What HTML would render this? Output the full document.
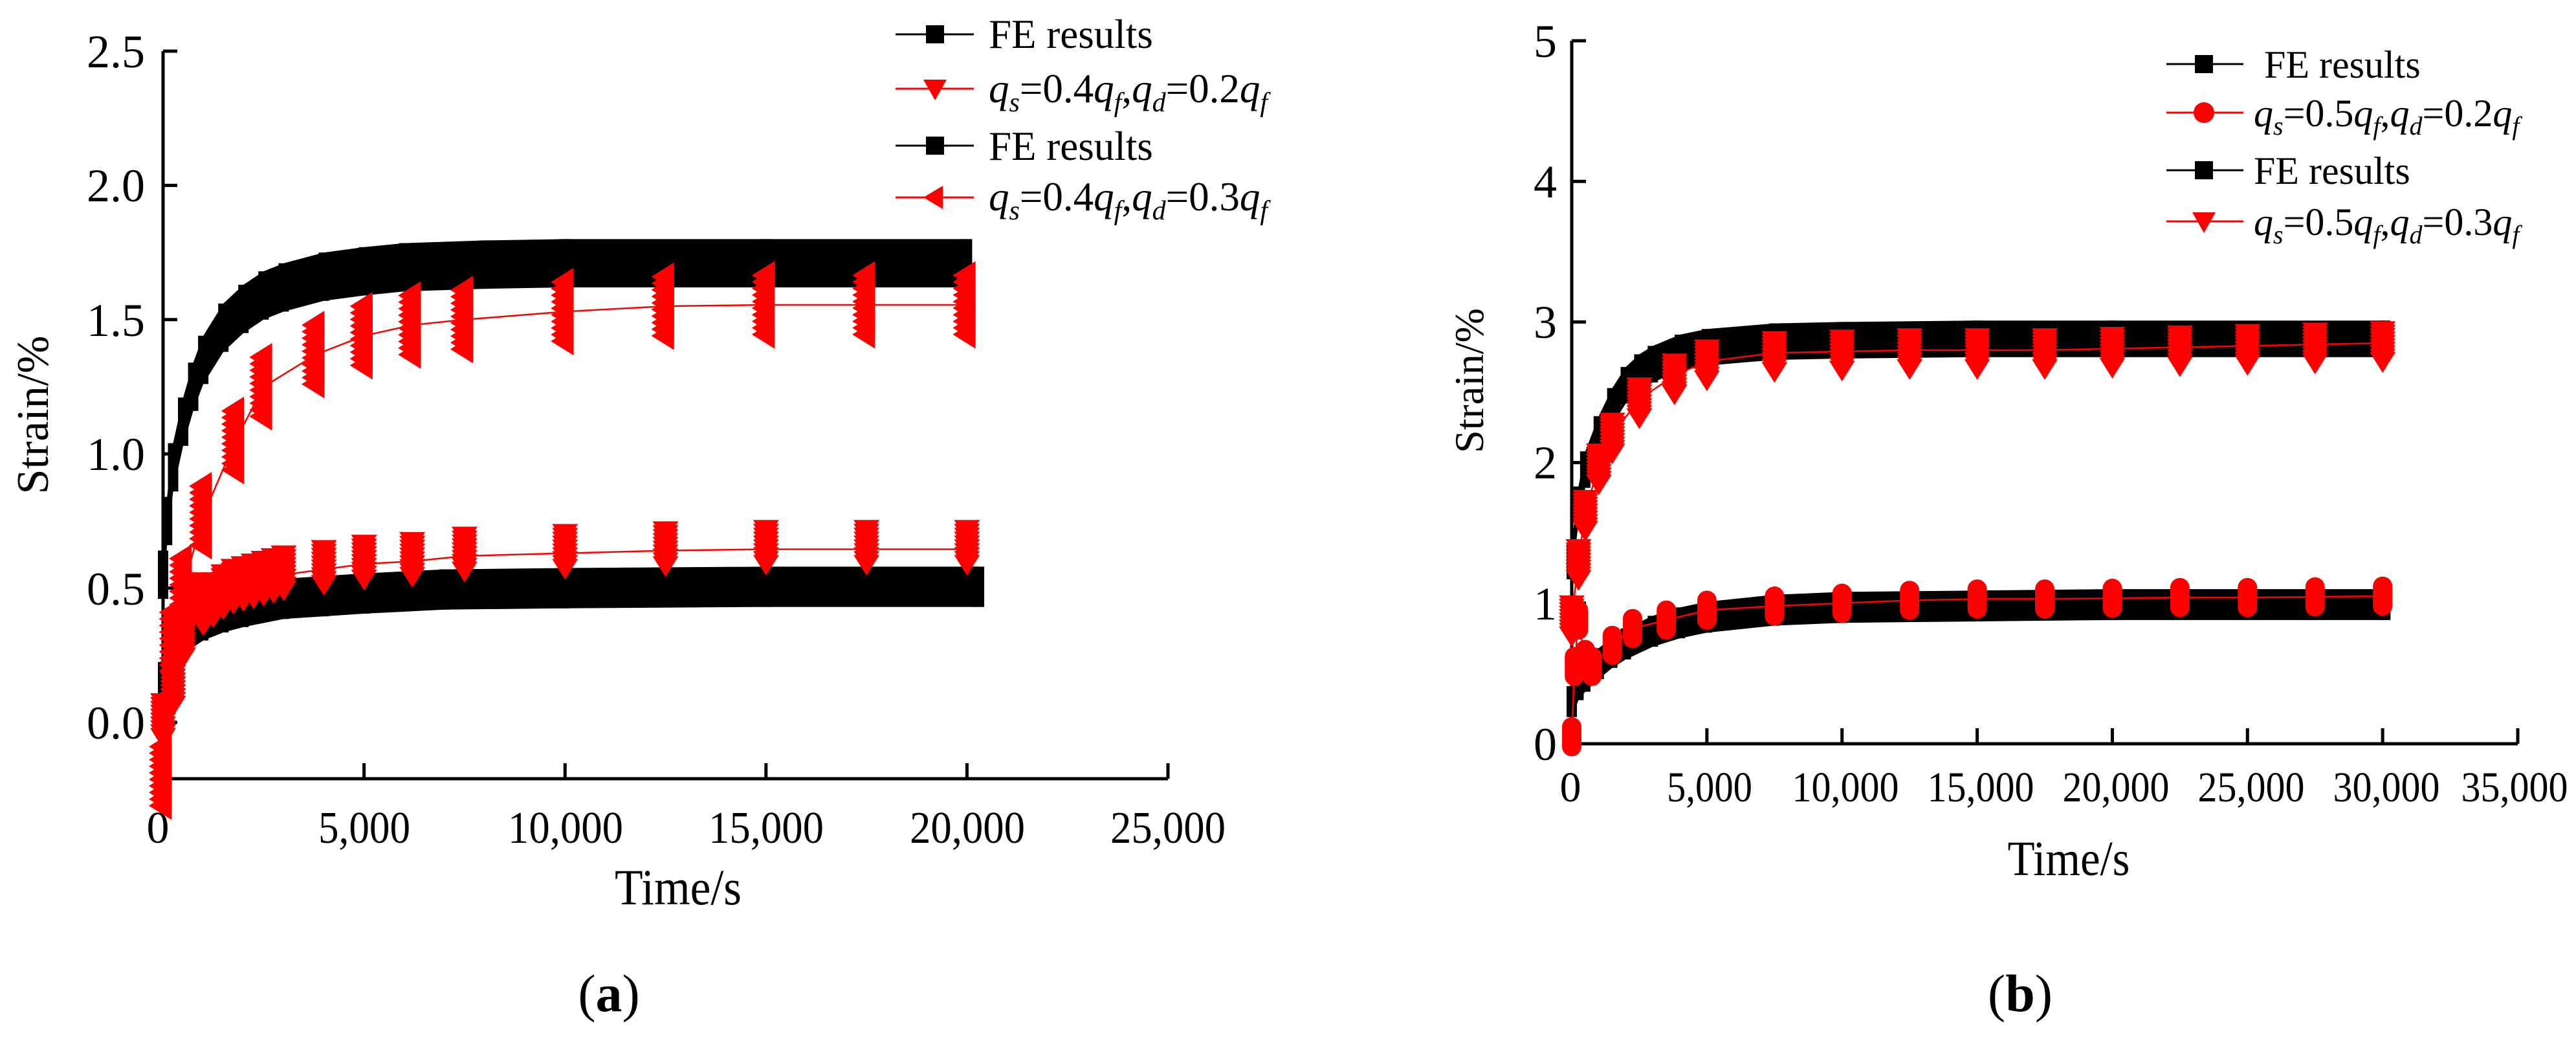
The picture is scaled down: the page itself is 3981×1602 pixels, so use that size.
<!DOCTYPE html>
<html><head><meta charset="utf-8"><style>
html,body{margin:0;padding:0;background:#fff;}
svg{display:block;font-family:"Liberation Serif","DejaVu Serif",serif;}
svg text, svg tspan{font-family:"Liberation Serif","DejaVu Serif",serif;}
</style></head><body>
<svg id="fig" width="3981" height="1602" viewBox="0 0 3981 1602" xmlns="http://www.w3.org/2000/svg" font-family="Liberation Serif, serif">
<g id="panelA"></g>
<g id="panelB"></g>

<g font-size="72" text-anchor="end" font-family="Liberation Serif, serif">
<text x="224" y="1141">0.0</text>
<text x="224" y="934">0.5</text>
<text x="224" y="726">1.0</text>
<text x="224" y="519">1.5</text>
<text x="224" y="311">2.0</text>
<text x="224" y="104">2.5</text>
</g>
<g font-size="70" text-anchor="middle" font-family="Liberation Serif, serif">
<text x="244" y="1302">0</text>
<text x="563" y="1302" textLength="142" lengthAdjust="spacingAndGlyphs">5,000</text>
<text x="874" y="1302" textLength="178" lengthAdjust="spacingAndGlyphs">10,000</text>
<text x="1184" y="1302" textLength="178" lengthAdjust="spacingAndGlyphs">15,000</text>
<text x="1495" y="1302" textLength="178" lengthAdjust="spacingAndGlyphs">20,000</text>
<text x="1805" y="1302" textLength="178" lengthAdjust="spacingAndGlyphs">25,000</text>
</g>
<text x="1048" y="1397" font-size="78" font-family="Liberation Serif, serif" text-anchor="middle" textLength="196" lengthAdjust="spacingAndGlyphs">Time/s</text>
<text transform="translate(74,641) rotate(-90)" font-size="70" font-family="Liberation Serif, serif" text-anchor="middle">Strain/%</text>
<text x="941" y="1562" font-size="82" font-family="Liberation Serif, serif" text-anchor="middle">(<tspan font-weight="bold">a</tspan>)</text>

<g font-size="63" font-family="Liberation Serif, serif">
<text x="1528" y="74">FE results</text>
<text x="1528" y="158"><tspan font-style="italic">q</tspan><tspan font-style="italic" font-size="42" dy="14">s</tspan><tspan dy="-14">=0.4</tspan><tspan font-style="italic">q</tspan><tspan font-style="italic" font-size="42" dy="14">f</tspan><tspan dy="-14">,</tspan><tspan font-style="italic">q</tspan><tspan font-style="italic" font-size="42" dy="14">d</tspan><tspan dy="-14">=0.2</tspan><tspan font-style="italic">q</tspan><tspan font-style="italic" font-size="42" dy="14">f</tspan></text>
<text x="1528" y="247">FE results</text>
<text x="1528" y="325"><tspan font-style="italic">q</tspan><tspan font-style="italic" font-size="42" dy="14">s</tspan><tspan dy="-14">=0.4</tspan><tspan font-style="italic">q</tspan><tspan font-style="italic" font-size="42" dy="14">f</tspan><tspan dy="-14">,</tspan><tspan font-style="italic">q</tspan><tspan font-style="italic" font-size="42" dy="14">d</tspan><tspan dy="-14">=0.3</tspan><tspan font-style="italic">q</tspan><tspan font-style="italic" font-size="42" dy="14">f</tspan></text>
</g>

<g font-size="72" text-anchor="end" font-family="Liberation Serif, serif">
<text x="2406" y="1174">0</text>
<text x="2406" y="957">1</text>
<text x="2406" y="739">2</text>
<text x="2406" y="522">3</text>
<text x="2406" y="305">4</text>
<text x="2406" y="88">5</text>
</g>
<g font-size="66" text-anchor="middle" font-family="Liberation Serif, serif">
<text x="2427" y="1238">0</text>
<text x="2642" y="1238" textLength="132" lengthAdjust="spacingAndGlyphs">5,000</text>
<text x="2852" y="1238" textLength="165" lengthAdjust="spacingAndGlyphs">10,000</text>
<text x="3061" y="1238" textLength="165" lengthAdjust="spacingAndGlyphs">15,000</text>
<text x="3270" y="1238" textLength="165" lengthAdjust="spacingAndGlyphs">20,000</text>
<text x="3479" y="1238" textLength="165" lengthAdjust="spacingAndGlyphs">25,000</text>
<text x="3688" y="1238" textLength="165" lengthAdjust="spacingAndGlyphs">30,000</text>
<text x="3886" y="1238" textLength="165" lengthAdjust="spacingAndGlyphs">35,000</text>
</g>
<text x="3197" y="1352" font-size="76" font-family="Liberation Serif, serif" text-anchor="middle" textLength="189" lengthAdjust="spacingAndGlyphs">Time/s</text>
<text transform="translate(2292,588) rotate(-90)" font-size="64" font-family="Liberation Serif, serif" text-anchor="middle">Strain/%</text>
<text x="3122" y="1562" font-size="82" font-family="Liberation Serif, serif" text-anchor="middle">(<tspan font-weight="bold">b</tspan>)</text>

<g font-size="60" font-family="Liberation Serif, serif">
<text x="3499" y="120">FE results</text>
<text x="3483" y="195"><tspan font-style="italic">q</tspan><tspan font-style="italic" font-size="40" dy="13">s</tspan><tspan dy="-13">=0.5</tspan><tspan font-style="italic">q</tspan><tspan font-style="italic" font-size="40" dy="13">f</tspan><tspan dy="-13">,</tspan><tspan font-style="italic">q</tspan><tspan font-style="italic" font-size="40" dy="13">d</tspan><tspan dy="-13">=0.2</tspan><tspan font-style="italic">q</tspan><tspan font-style="italic" font-size="40" dy="13">f</tspan></text>
<text x="3483" y="284">FE results</text>
<text x="3483" y="363"><tspan font-style="italic">q</tspan><tspan font-style="italic" font-size="40" dy="13">s</tspan><tspan dy="-13">=0.5</tspan><tspan font-style="italic">q</tspan><tspan font-style="italic" font-size="40" dy="13">f</tspan><tspan dy="-13">,</tspan><tspan font-style="italic">q</tspan><tspan font-style="italic" font-size="40" dy="13">d</tspan><tspan dy="-13">=0.3</tspan><tspan font-style="italic">q</tspan><tspan font-style="italic" font-size="40" dy="13">f</tspan></text>
</g>
</svg>
<script>
const aXTicks = [0, 5000, 10000, 15000, 20000, 25000];
const aYTicks = [0, 0.5, 1.0, 1.5, 2.0, 2.5];
const aFe1Time = [0,100,250,500,750,1000,1500,2000,2500,3000,4000,5000,6000,8000,10000,15000,20000];
const aFe1Val  = [0.55,0.75,0.95,1.12,1.25,1.35,1.47,1.54,1.59,1.62,1.66,1.68,1.695,1.705,1.71,1.71,1.71];
const aFe2Time = [0,100,250,500,1000,1500,2000,3000,4000,5000,7000,10000,15000,20300];
const aFe2Val  = [0.15,0.22,0.28,0.33,0.38,0.41,0.43,0.46,0.47,0.48,0.495,0.5,0.505,0.505];
const aRed1Time = [0,250,500,750,1000,1250,1500,1750,2000,2250,2500,2750,3000,4000,5000,6200,7500,10000,12500,15000,17500,20000];
const aRed1Val  = [0.0,0.12,0.3,0.45,0.42,0.45,0.48,0.5,0.51,0.52,0.53,0.54,0.55,0.57,0.59,0.6,0.62,0.63,0.64,0.645,0.645,0.645];
const aRed2Time = [0,250,500,1000,1800,2500,3800,5000,6200,7500,10000,12500,15000,17500,20000];
const aRed2Val  = [-0.2,0.3,0.5,0.77,1.05,1.25,1.37,1.44,1.48,1.5,1.53,1.55,1.555,1.555,1.555];

const bXTicks = [0,5000,10000,15000,20000,25000,30000,35000];
const bYTicks = [0,1,2,3,4,5];
const bFe1Time = [0,250,500,1000,1500,2000,2500,3000,4000,5000,7500,10000,15000,20000,30100];
const bFe1Val  = [1.3,1.7,1.95,2.2,2.4,2.55,2.64,2.7,2.78,2.82,2.86,2.87,2.88,2.88,2.88];
const bFe2Time = [0,250,500,1000,1500,2000,3000,4000,5000,7500,10000,15000,20000,30100];
const bFe2Val  = [0.3,0.42,0.48,0.57,0.65,0.71,0.8,0.86,0.9,0.95,0.97,0.98,0.99,0.99];
const bRed1Time = [0,100,250,500,750,1500,2250,3500,5000,7500,10000,12500,15000,17500,20000,22500,25000,27500,30000];
const bRed1Val  = [0.05,0.55,0.88,0.6,0.55,0.7,0.82,0.88,0.95,0.98,1.0,1.02,1.03,1.03,1.035,1.04,1.04,1.045,1.05];
const bRed2Time = [0,250,500,1000,1500,2500,3800,5000,7500,10000,12500,15000,17500,20000,22500,25000,27500,30000];
const bRed2Val  = [0.9,1.3,1.65,1.98,2.2,2.45,2.62,2.72,2.78,2.79,2.8,2.8,2.8,2.81,2.82,2.83,2.84,2.85];

const NS = "http://www.w3.org/2000/svg";
function mk(parent, tag, attrs) {
  const e = document.createElementNS(NS, tag);
  for (const k in attrs) e.setAttribute(k, attrs[k]);
  parent.appendChild(e);
  return e;
}

function drawPanel(g, cfg) {
  const X = t => cfg.x0 + (t - cfg.tMin) / (cfg.tMax - cfg.tMin) * (cfg.x1 - cfg.x0);
  const Y = v => cfg.yZero - v * cfg.pxPerUnit;
  const yAx = mk(g, "line", {x1: cfg.x0, y1: Y(cfg.yTicks[cfg.yTicks.length-1]), x2: cfg.x0, y2: cfg.yAxisBottom, stroke: "#000", "stroke-width": 5});
  
  
  const xAx = mk(g, "line", {x1: cfg.x0, y1: cfg.xAxisY, x2: cfg.x1, y2: cfg.xAxisY, stroke: "#000", "stroke-width": 5});
  
  
  cfg.yTicks.forEach(v => {
    const tk = mk(g, "line", {x1: cfg.x0, y1: Y(v), x2: cfg.x0 + 22, y2: Y(v), stroke: "#000", "stroke-width": 5});
    
    
  });
  cfg.xTicks.forEach(t => {
    const tk = mk(g, "line", {x1: X(t), y1: cfg.xAxisY, x2: X(t), y2: cfg.xAxisY - 24, stroke: "#000", "stroke-width": 5});
    
    
  });
  cfg.fe.forEach((s, si) => {
    const top = s.t.map((t, i) => X(t) + "," + Y(s.v[i] + s.half));
    const bot = s.t.map((t, i) => X(t) + "," + Y(s.v[i] - s.half)).reverse();
    const p = mk(g, "polygon", {points: top.concat(bot).join(" "), fill: "#000"});
    
    
    s.t.forEach((t, i) => {
      const r = mk(g, "rect", {x: X(t) - 8, y: Y(s.v[i] + s.half), width: 16, height: 2 * s.half * cfg.pxPerUnit, fill: "#000"});
      
      
    });
  });
  cfg.red.forEach((s, si) => {
    const pl = mk(g, "polyline", {points: s.t.map((t, i) => X(t) + "," + Y(s.v[i])).join(" "), fill: "none", stroke: "#f00", "stroke-width": 2.5});
    
    
    s.t.forEach((t, i) => {
      const cx = X(t), cy = Y(s.v[i]);
      const grp = mk(g, "g", {fill: "#f00"});
      
      
      const n = 10, up = s.up * cfg.pxPerUnit, dn = s.dn * cfg.pxPerUnit;
      for (let k = 0; k < n; k++) {
        const yy = cy - up + (up + dn) * k / (n - 1);
        const r = s.size;
        let pts;
        if (s.shape === "down") pts = [[cx - r, yy - r*0.6], [cx + r, yy - r*0.6], [cx, yy + r]];
        else if (s.shape === "left") pts = [[cx - r, yy], [cx + r*0.6, yy - r], [cx + r*0.6, yy + r]];
        if (s.shape === "circle") mk(grp, "circle", {cx: cx, cy: yy, r: r});
        else mk(grp, "polygon", {points: pts.map(p => p.join(",")).join(" ")});
      }
    });
  });
  cfg.legend.forEach((L, i) => {
    const lg = mk(g, "g", {});
    
    
    const col = L.color;
    mk(lg, "line", {x1: cfg.legX0, y1: L.y, x2: cfg.legX1, y2: L.y, stroke: col, "stroke-width": 3});
    const mx = cfg.legM, r = 14;
    if (L.shape === "square") mk(lg, "rect", {x: mx - r, y: L.y - r, width: 2*r, height: 2*r, fill: col});
    else if (L.shape === "circle") mk(lg, "circle", {cx: mx, cy: L.y, r: r + 2, fill: col});
    else if (L.shape === "down") mk(lg, "polygon", {points: `${mx-18},${L.y-14} ${mx+18},${L.y-14} ${mx},${L.y+18}`, fill: col});
    else if (L.shape === "left") mk(lg, "polygon", {points: `${mx-18},${L.y} ${mx+12},${L.y-18} ${mx+12},${L.y+18}`, fill: col});
  });
}

drawPanel(document.getElementById("panelA"), {
  x0: 252, x1: 1805, tMin: 0, tMax: 25000, yZero: 1116, pxPerUnit: 414.8,
  xAxisY: 1203, yAxisBottom: 1223, xTicks: aXTicks, yTicks: aYTicks,
  fe: [{t: aFe1Time, v: aFe1Val, half: 0.09}, {t: aFe2Time, v: aFe2Val, half: 0.075}],
  red: [
    {t: aRed1Time, v: aRed1Val, shape: "down", size: 20, up: 0.08, dn: 0.05},
    {t: aRed2Time, v: aRed2Val, shape: "left", size: 22, up: 0.11, dn: 0.11}
  ],
  legX0: 1384, legX1: 1505, legM: 1445,
  legend: [{y: 53, color: "#000", shape: "square"}, {y: 137, color: "#f00", shape: "down"},
           {y: 225, color: "#000", shape: "square"}, {y: 305, color: "#f00", shape: "left"}]
});
drawPanel(document.getElementById("panelB"), {
  x0: 2429, x1: 3891, tMin: 0, tMax: 35000, yZero: 1149, pxPerUnit: 217.2,
  xAxisY: 1149, yAxisBottom: 1151, xTicks: bXTicks, yTicks: bYTicks,
  fe: [{t: bFe1Time, v: bFe1Val, half: 0.13}, {t: bFe2Time, v: bFe2Val, half: 0.11}],
  red: [
    {t: bRed1Time, v: bRed1Val, shape: "circle", size: 15, up: 0.07, dn: 0.07},
    {t: bRed2Time, v: bRed2Val, shape: "down", size: 20, up: 0.1, dn: 0.12}
  ],
  legX0: 3348, legX1: 3467, legM: 3406,
  legend: [{y: 99, color: "#000", shape: "square"}, {y: 174, color: "#f00", shape: "circle"},
           {y: 263, color: "#000", shape: "square"}, {y: 342, color: "#f00", shape: "down"}]
});
</script>
</body></html>
